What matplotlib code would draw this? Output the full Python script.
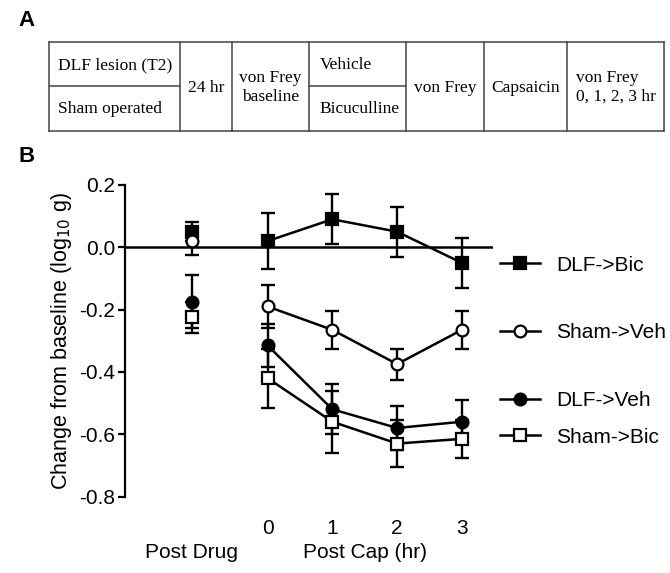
"""
Post drug / post capsaicin von Frey thresholds
"""

import matplotlib.pyplot as plt
from matplotlib.legend import Legend
from matplotlib.transforms import blended_transform_factory

plt.rcParams["font.family"] = ["Liberation Sans", "DejaVu Sans"]

# ---- data (change from baseline, log10 g) ----
hours = [0, 1, 2, 3]
hour_labels = ["0", "1", "2", "3"]
post_drug_x = -1.17

dlf_bic_drug, dlf_bic_drug_err = 0.05, 0.03
dlf_bic = [0.02, 0.09, 0.05, -0.05]
dlf_bic_err = [0.09, 0.08, 0.08, 0.08]

sham_veh_drug, sham_veh_drug_err = 0.02, 0.045
sham_veh = [-0.19, -0.265, -0.375, -0.265]
sham_veh_err = [0.07, 0.06, 0.05, 0.06]

dlf_veh_drug, dlf_veh_drug_err = -0.175, 0.085
dlf_veh = [-0.315, -0.52, -0.58, -0.56]
dlf_veh_err = [0.07, 0.08, 0.07, 0.07]

sham_bic_drug, sham_bic_drug_err = -0.225, 0.05
sham_bic = [-0.42, -0.56, -0.63, -0.615]
sham_bic_err = [0.095, 0.1, 0.075, 0.06]

series_names = ["DLF->Bic", "Sham->Veh", "DLF->Veh", "Sham->Bic"]
# label heights in the legend column (data units)
legend_y = [-0.057, -0.275, -0.493, -0.609]

# ---- protocol table layout ----
col_edges = [0.0, 0.213, 0.298, 0.423, 0.581, 0.707, 0.843, 1.0]


def draw_table(fig):
    tab = fig.add_axes([49 / 670, (573 - 130.7) / 573, 615 / 670, 89 / 573])
    tab.set_xlim(0, 1)
    tab.set_ylim(0, 1)
    tab.axis("off")
    lc = "#444444"
    lw = 1.1
    tab.plot([0, 1], [1, 1], color=lc, lw=lw, clip_on=False)
    tab.plot([0, 1], [0, 0], color=lc, lw=lw, clip_on=False)
    for x in col_edges:
        tab.plot([x, x], [0, 1], color=lc, lw=lw, clip_on=False)
    for i in (0, 3):
        tab.plot([col_edges[i], col_edges[i + 1]], [0.5, 0.5], color=lc, lw=lw)

    kw = dict(family=["Liberation Serif", "DejaVu Serif"], fontsize=12.5,
              va="center", linespacing=1.2)
    pad = 0.014
    tab.text(col_edges[0] + pad, 0.738, "DLF lesion (T2)", ha="left", **kw)
    tab.text(col_edges[0] + pad, 0.245, "Sham operated", ha="left", **kw)
    tab.text((col_edges[1] + col_edges[2]) / 2, 0.48, "24 hr", ha="center", **kw)
    tab.text((col_edges[2] + col_edges[3]) / 2, 0.485, "von Frey\nbaseline",
             ha="center", **kw)
    tab.text(col_edges[3] + pad + 0.003, 0.738, "Vehicle", ha="left", **kw)
    tab.text(col_edges[3] + pad + 0.003, 0.245, "Bicuculline", ha="left", **kw)
    tab.text((col_edges[4] + col_edges[5]) / 2, 0.48, "von Frey", ha="center", **kw)
    tab.text((col_edges[5] + col_edges[6]) / 2, 0.48, "Capsaicin", ha="center", **kw)
    tab.text(col_edges[6] + pad, 0.485, "von Frey\n0, 1, 2, 3 hr", ha="left", **kw)


def plot_series(ax, drug, drug_err, vals, errs, marker, face, z):
    style = dict(color="black", marker=marker, markerfacecolor=face,
                 markeredgecolor="black", markeredgewidth=1.6,
                 markersize=8.5 if marker == "o" else 8, zorder=z, clip_on=False)
    ebar = dict(fmt="none", ecolor="black", elinewidth=1.7, capsize=4.8,
                capthick=1.7, zorder=z - 0.5, clip_on=False)
    ax.errorbar(hours, vals, yerr=errs, **ebar)
    ax.errorbar([post_drug_x], [drug], yerr=[drug_err], **ebar)
    line, = ax.plot(hours, vals, lw=1.8, **style)
    ax.plot([post_drug_x], [drug], lw=0, **style)
    return line


fig = plt.figure(figsize=(6.7, 5.73), dpi=100)
draw_table(fig)

ax = fig.add_axes([125 / 670, 76.5 / 573, 368 / 670, 311.5 / 573])
ax.set_xlim(-2.2, 3.48)
ax.set_ylim(-0.8, 0.2)

h1 = plot_series(ax, dlf_bic_drug, dlf_bic_drug_err, dlf_bic, dlf_bic_err, "s", "black", 3)
h2 = plot_series(ax, sham_veh_drug, sham_veh_drug_err, sham_veh, sham_veh_err, "o", "white", 4)
h3 = plot_series(ax, dlf_veh_drug, dlf_veh_drug_err, dlf_veh, dlf_veh_err, "o", "black", 5)
h4 = plot_series(ax, sham_bic_drug, sham_bic_drug_err, sham_bic, sham_bic_err, "s", "white", 6)

ax.axhline(0, color="black", lw=1.8, zorder=2)

for s in ("top", "right", "bottom"):
    ax.spines[s].set_visible(False)
ax.spines["left"].set_linewidth(1.6)
ax.set_yticks([0.2, 0.0, -0.2, -0.4, -0.6, -0.8])
ax.set_yticklabels(["0.2", "0.0", "-0.2", "-0.4", "-0.6", "-0.8"])
ax.tick_params(axis="y", length=5, width=1.6, labelsize=15, pad=2)
ax.set_xticks(hours)
ax.set_xticklabels(hour_labels)
ax.tick_params(axis="x", length=0, labelsize=15, pad=16)
ax.set_ylabel("Change from baseline (log$_{10}$ g)", fontsize=15.5, labelpad=4)

trans = blended_transform_factory(ax.transData, ax.transAxes)
ax.text(post_drug_x, -0.181, "Post Drug", transform=trans, ha="center",
        va="center", fontsize=15)
ax.text(1.5, -0.181, "Post Cap (hr)", transform=trans, ha="center",
        va="center", fontsize=15)

# legend entries sit beside the line ends
ltrans = blended_transform_factory(ax.transAxes, ax.transData)
for h, name, y in zip([h1, h2, h3, h4], series_names, legend_y):
    leg = Legend(ax, [h], [name], loc="center left", bbox_to_anchor=(1.019, y),
                 bbox_transform=ltrans, frameon=False, fontsize=15,
                 handlelength=1.9, handletextpad=0.8, borderpad=0,
                 borderaxespad=0)
    ax.add_artist(leg)

fig.text(18 / 670, 1 - 20 / 573, "A", fontsize=16, fontweight="bold", va="center")
fig.text(18 / 670, 1 - 156 / 573, "B", fontsize=16, fontweight="bold", va="center")

fig.savefig("out.png", dpi=100)
